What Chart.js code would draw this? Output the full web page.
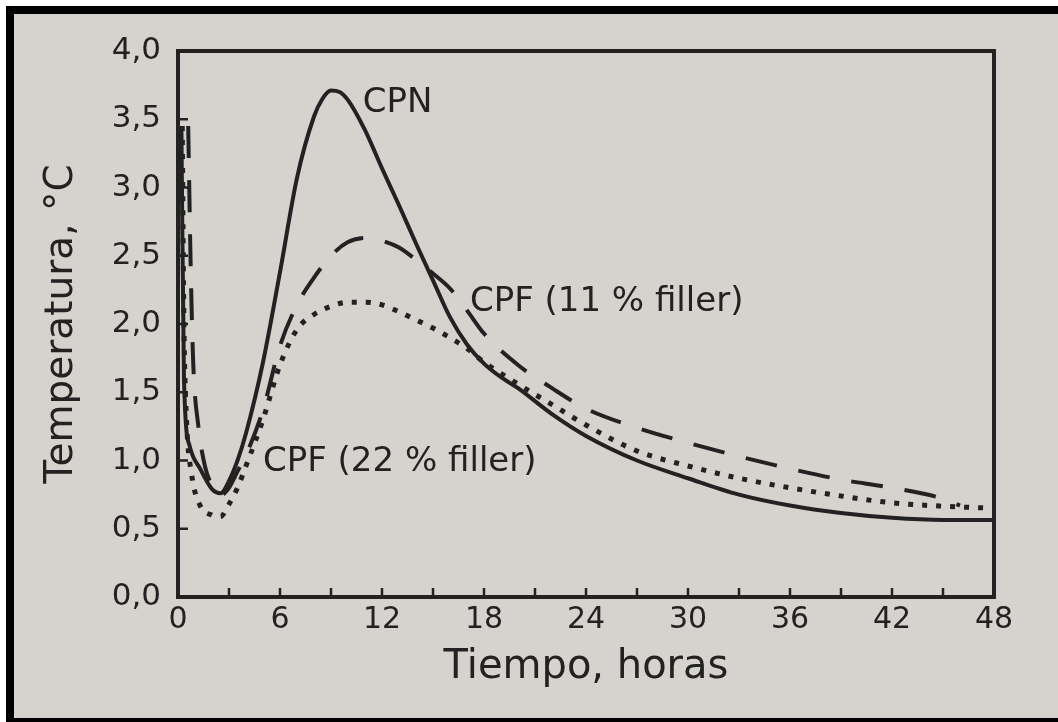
<!DOCTYPE html>
<html>
<head>
<meta charset="utf-8" />
<title>Temperatura vs tiempo</title>
<script src="https://cdn.jsdelivr.net/npm/chart.js@4.4.0/dist/chart.umd.min.js"></script>
<style>
    html, body { margin: 0; padding: 0; background: #fff; width: 1058px; height: 722px; overflow: hidden; }
    #paper {
        position: absolute; left: 6px; top: 6px; width: 1052px; height: 716px; box-sizing: border-box;
        border-top: 8px solid #000; border-left: 8px solid #000; border-bottom: 4px solid #000;
        background: #d6d3cf;
    }
    #chart { position: absolute; left: 0; top: 0; }
</style>
</head>
<body>
<div id="paper"></div>
<canvas id="chart" width="1058" height="722"></canvas>

<script>
    // valores
    const horasCpn   = [0.2, 0.35, 0.7, 1.3, 2, 2.5, 3, 3.5, 4, 5, 6, 7, 8, 8.5, 9, 9.5, 10, 11, 12, 13, 14, 15, 16, 17, 18, 19, 20, 22, 24, 27, 30, 33, 36, 39, 42, 45, 48];
    const cpn        = [3.45, 1.6, 1.1, 0.94, 0.79, 0.76, 0.85, 1.0, 1.2, 1.72, 2.38, 3.07, 3.52, 3.65, 3.71, 3.7, 3.64, 3.42, 3.14, 2.87, 2.59, 2.32, 2.05, 1.85, 1.71, 1.61, 1.53, 1.34, 1.18, 1.0, 0.87, 0.75, 0.67, 0.615, 0.58, 0.565, 0.565];

    const horasCpf11 = [0.6, 0.75, 0.9, 1.2, 1.6, 2, 2.5, 3, 3.5, 4, 5, 6, 7, 8, 9, 10, 11, 12, 13, 14, 15, 16, 17, 18, 20, 22, 24, 27, 30, 33, 36, 39, 42, 45, 46];
    const cpf11      = [3.45, 2.4, 1.7, 1.25, 0.95, 0.82, 0.745, 0.8, 0.92, 1.04, 1.37, 1.84, 2.14, 2.34, 2.5, 2.6, 2.63, 2.61, 2.56, 2.47, 2.37, 2.26, 2.1, 1.93, 1.7, 1.53, 1.38, 1.24, 1.13, 1.03, 0.94, 0.86, 0.8, 0.72, 0.67];

    const horasCpf22 = [0.25, 0.35, 0.5, 0.8, 1.3, 2, 2.5, 3, 3.5, 4, 5, 6, 7, 8, 9, 10, 11, 12, 13, 14, 15, 16, 17, 18, 20, 22, 24, 27, 30, 33, 36, 39, 42, 45, 48];
    const cpf22      = [3.45, 2.0, 1.3, 0.9, 0.67, 0.6, 0.59, 0.68, 0.8, 0.96, 1.3, 1.7, 1.96, 2.07, 2.13, 2.16, 2.16, 2.14, 2.09, 2.03, 1.97, 1.9, 1.82, 1.72, 1.56, 1.41, 1.26, 1.07, 0.96, 0.87, 0.8, 0.74, 0.69, 0.665, 0.65];

    const etiquetas = ['CPN', 'CPF (11 % filler)', 'CPF (22 % filler)'];
    const etiquetaX = [10.87, 17.17, 5.0];
    const etiquetaY = [3.62, 2.16, 0.985];

    const tinta = '#222';
    const fuente = 'DejaVu Sans';

    function puntos(hs, vals) {
        return hs.map((h, i) => ({ x: h, y: vals[i] }));
    }

    // marcas hacia dentro, marco y rotulos de las curvas
    const marcas = {
        id: 'marcas',
        afterDraw(chart) {
            const { ctx, chartArea: a, scales: { x, y } } = chart;
            ctx.save();
            ctx.strokeStyle = tinta;
            ctx.lineWidth = 2.5;
            x.ticks.forEach(t => {
                const px = x.getPixelForValue(t.value);
                ctx.beginPath();
                ctx.moveTo(px, a.bottom);
                ctx.lineTo(px, a.bottom - 9);
                ctx.stroke();
            });
            y.ticks.forEach(t => {
                const py = y.getPixelForValue(t.value);
                ctx.beginPath();
                ctx.moveTo(a.left, py);
                ctx.lineTo(a.left + 10, py);
                ctx.stroke();
            });
            ctx.lineWidth = 4;
            ctx.strokeRect(a.left, a.top, a.right - a.left, a.bottom - a.top);

            ctx.fillStyle = tinta;
            ctx.font = '34px "' + fuente + '"';
            ctx.textAlign = 'left';
            ctx.textBaseline = 'middle';
            etiquetas.forEach((txt, i) => {
                ctx.fillText(txt, x.getPixelForValue(etiquetaX[i]), y.getPixelForValue(etiquetaY[i]));
            });
            ctx.restore();
        }
    };

    let grafico = new Chart(document.getElementById('chart'), {
        type: 'line',
        data: {
            datasets: [{
                label: 'CPN',
                data: puntos(horasCpn, cpn),
                borderColor: tinta,
                borderWidth: 4,
                pointRadius: 0,
                cubicInterpolationMode: 'monotone'
            }, {
                label: 'CPF (11 % filler)',
                data: puntos(horasCpf11, cpf11),
                borderColor: tinta,
                borderWidth: 4,
                borderDash: [32, 22],
                pointRadius: 0,
                cubicInterpolationMode: 'monotone'
            }, {
                label: 'CPF (22 % filler)',
                data: puntos(horasCpf22, cpf22),
                borderColor: tinta,
                borderWidth: 5,
                borderDash: [5, 9],
                pointRadius: 0,
                cubicInterpolationMode: 'monotone'
            }]
        },
        options: {
            responsive: false,
            animation: false,
            layout: { padding: { left: 14, top: 51, right: 64, bottom: 0 } },
            plugins: {
                legend: { display: false },
                tooltip: { enabled: false }
            },
            scales: {
                x: {
                    type: 'linear',
                    min: 0,
                    max: 48,
                    afterFit(s) { s.height = 125; },
                    grid: { display: false, drawTicks: false },
                    border: { display: false },
                    ticks: {
                        stepSize: 3,
                        autoSkip: false,
                        maxRotation: 0,
                        padding: 5,
                        color: tinta,
                        font: { family: fuente, size: 30 },
                        callback: v => (v % 6 === 0 ? v : '')
                    },
                    title: {
                        display: true,
                        text: 'Tiempo, horas',
                        color: tinta,
                        font: { family: fuente, size: 40 },
                        padding: { top: 0, bottom: 30 }
                    }
                },
                y: {
                    min: 0,
                    max: 4,
                    afterFit(s) { s.width = 164; },
                    grid: { display: false, drawTicks: false },
                    border: { display: false },
                    ticks: {
                        stepSize: 0.5,
                        padding: 17,
                        color: tinta,
                        font: { family: fuente, size: 31 },
                        callback: v => v.toFixed(1).replace('.', ',')
                    },
                    title: {
                        display: true,
                        text: 'Temperatura, °C',
                        color: tinta,
                        font: { family: fuente, size: 39 },
                        padding: { top: 24, bottom: 0 }
                    }
                }
            }
        },
        plugins: [marcas]
    });
</script>
</body>
</html>
